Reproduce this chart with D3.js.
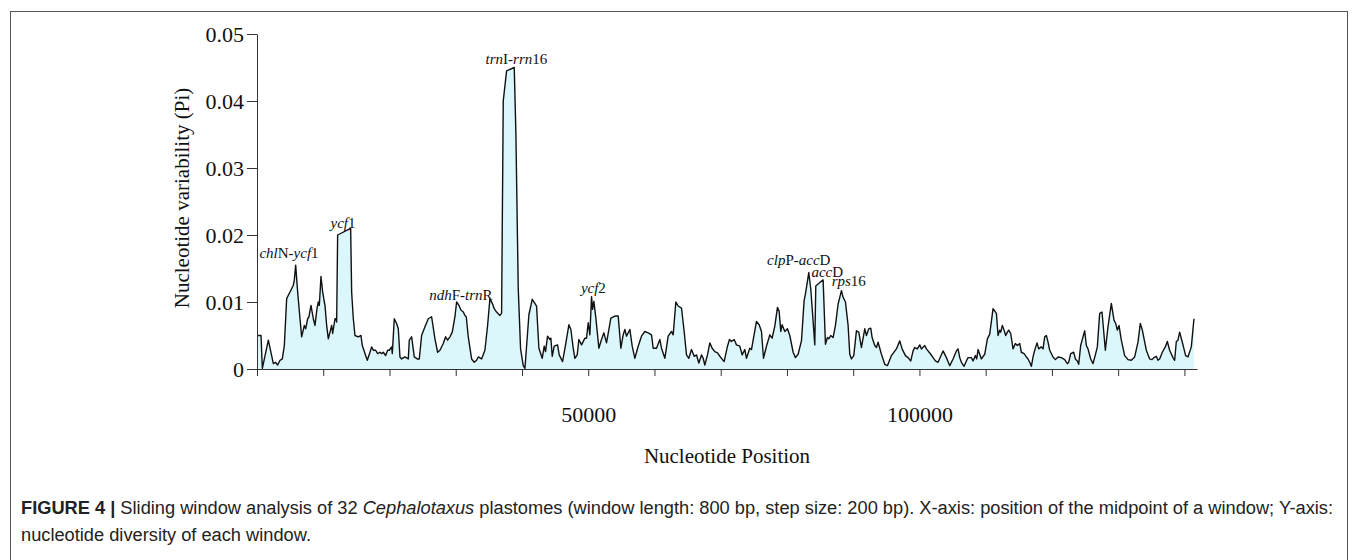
<!DOCTYPE html>
<html>
<head>
<meta charset="utf-8">
<script src="https://cdn.jsdelivr.net/npm/d3@7"></script>
<style>
  body { margin: 0; background: #fff; }
  svg { display: block; }
</style>
</head>
<body>
<div id="chart"></div>
<script>
// window midpoints (bp) and nucleotide diversity
const positions = [
  0, 605, 807, 1712, 2467, 2819, 3120, 3473, 3825, 4126, 4479, 4982, 5485, 5635, 5837, 6138, 6491, 6742, 7144, 7346,
  7647, 7849, 8150, 8503, 8754, 9056, 9257, 9408, 9659, 9911, 10162, 10263, 10515, 10766, 11018, 11269, 11420, 11772, 11923, 12024,
  12174, 14136, 14287, 14539, 14790, 15293, 15695, 15897, 16299, 16651, 17054, 17305, 17557, 17909, 18210, 18563, 18814, 19066, 19418, 19719,
  19971, 20323, 20424, 20725, 21078, 21329, 21581, 21832, 22335, 22838, 22989, 23341, 23743, 24196, 24498, 24850, 25353, 25856, 26359, 26862,
  27264, 27617, 28120, 28472, 28773, 29126, 29478, 29880, 30132, 30484, 30785, 31138, 31389, 31590, 31892, 32395, 32797, 33150, 33401, 33904,
  34407, 34809, 35162, 35514, 35815, 36168, 36671, 36922, 37174, 37677, 38833, 39085, 39437, 39789, 40192, 40450,
  41045, 41548, 42202, 42554, 43057, 43358, 43560, 43861, 44214, 44364, 44566, 44867, 45370, 45622, 45974, 46125, 46578, 47081, 47382, 47735,
  47986, 48338, 48590, 48992, 49495, 49747, 49998, 50250, 50501, 50652, 50853, 51155, 51608, 51909, 52362, 52765, 53418, 54022, 54525, 54927,
  55279, 55531, 55783, 56286, 56638, 57040, 57543, 58046, 58549, 59052, 59555, 59807, 60310, 60813, 61064, 61567, 62070, 62573, 62825, 63227,
  63579, 64082, 64484, 64837, 65189, 65591, 65993, 66346, 66698, 67100, 67352, 67603, 68005, 68358, 68709, 69112, 69514, 69867, 70520, 71024,
  71325, 71627, 72029, 72382, 72885, 73236, 73639, 73891, 74394, 74645, 75400, 75802, 76154, 76456, 76909, 77412, 77763, 78166, 78569, 78820,
  79072, 79273, 79675,
  80077, 80430, 80933, 81285, 81687, 82190, 82592, 82794, 83297, 83598, 83850, 84202, 84353, 84957, 85460, 85812, 86113, 86315, 86616, 86969,
  87321, 87723, 87975, 88226, 88478, 88830, 89232, 89484, 89735, 90087, 90490, 90842, 91244, 91747, 91999, 92351, 92652, 92854, 93256, 93508,
  93759, 94262, 94765, 95167, 95771, 96526, 97029, 97381, 97884, 98286, 98688, 99041, 99292, 99694, 100047, 100298, 100801, 101053, 101706, 102059,
  102411, 102813, 103568, 104071, 104574, 105077, 105580, 105831, 106083, 106334, 106737, 107089, 107340, 107843, 108095, 108447, 108648, 108849, 109352, 109855,
  110257, 110610, 111113,
  111616, 111867, 112119, 112269, 112521, 112772, 113024, 113275, 113477, 113778, 114131, 114483, 114784, 115137, 115388, 115790, 116143, 116394, 116646, 116897,
  117149, 117400, 117752, 118004, 118406, 118658, 118909, 119161, 119412, 119664, 120167, 120519, 120921, 121424, 121927, 122329, 122531, 122832, 123285, 123537,
  123838, 124040, 124341, 124694, 124945, 125197, 125448, 125850, 126203, 126605, 126856, 127209, 127561, 128064, 128466, 128969, 129371, 129623, 129874, 130126,
  130478, 130981, 131484, 131987, 132490, 132993, 133345, 133647, 134251, 134754, 135106, 135407, 135760, 136011, 136263, 136665, 137118, 137419, 137772, 138275,
  138526, 138778, 139029, 139281, 139683, 140186, 140538, 141041, 141443
];
const pi = [
  .0050, .0050, .0001, .0043, .0008, .0010, .0006, .0013, .0015, .0035, .0105, .0115, .0125, .0133, .0155, .0115, .0075, .0048, .0065, .0060,
  .0075, .0078, .0095, .0075, .0065, .0090, .0100, .0095, .0138, .0115, .0100, .0095, .0065, .0045, .0055, .0065, .0053, .0075, .0075, .0070,
  .0200, .0210, .0115, .0075, .0050, .0048, .0050, .0035, .0023, .0013, .0025, .0033, .0028, .0028, .0023, .0025, .0023, .0025, .0020, .0028,
  .0028, .0033, .0023, .0075, .0068, .0060, .0018, .0015, .0018, .0015, .0043, .0048, .0018, .0015, .0015, .0050, .0063, .0075, .0078, .0045,
  .0025, .0028, .0038, .0048, .0043, .0048, .0055, .0078, .0100, .0095, .0088, .0085, .0080, .0078, .0048, .0015, .0010, .0013, .0018, .0015,
  .0028, .0065, .0105, .0098, .0090, .0085, .0080, .0083, .0400, .0445, .0450, .0350, .0120, .0030, .0005, .0001,
  .0081, .0104, .0094, .0031, .0016, .0034, .0026, .0049, .0044, .0046, .0019, .0034, .0036, .0021, .0014, .0011, .0036, .0066, .0059, .0031,
  .0016, .0021, .0044, .0036, .0046, .0046, .0069, .0051, .0108, .0089, .0101, .0076, .0031, .0041, .0054, .0039, .0076, .0079, .0079, .0031,
  .0051, .0059, .0049, .0059, .0034, .0016, .0034, .0049, .0056, .0054, .0051, .0031, .0031, .0044, .0031, .0016, .0049, .0056, .0051, .0100,
  .0094, .0091, .0056, .0021, .0016, .0029, .0019, .0021, .0009, .0021, .0016, .0006, .0021, .0039, .0031, .0026, .0024, .0019, .0011, .0034,
  .0044, .0041, .0044, .0036, .0034, .0021, .0029, .0016, .0031, .0029, .0071, .0066, .0056, .0016, .0034, .0051, .0046, .0064, .0092, .0086,
  .0056, .0066, .0056,
  .0060, .0050, .0025, .0017, .0022, .0042, .0102, .0112, .0144, .0119, .0085, .0036, .0124, .0129, .0133, .0037, .0047, .0045, .0050, .0047,
  .0065, .0097, .0107, .0117, .0107, .0100, .0065, .0022, .0015, .0020, .0057, .0055, .0032, .0060, .0050, .0060, .0061, .0047, .0035, .0032,
  .0040, .0022, .0007, .0005, .0020, .0030, .0042, .0030, .0020, .0017, .0012, .0027, .0032, .0030, .0036, .0030, .0035, .0030, .0022, .0017,
  .0012, .0010, .0027, .0017, .0005, .0015, .0027, .0030, .0017, .0010, .0004, .0012, .0017, .0017, .0012, .0020, .0015, .0029, .0015, .0022,
  .0045, .0052, .0090,
  .0083, .0050, .0058, .0055, .0065, .0058, .0050, .0055, .0058, .0053, .0030, .0038, .0035, .0038, .0025, .0023, .0018, .0015, .0010, .0004,
  .0018, .0028, .0039, .0030, .0033, .0030, .0048, .0050, .0040, .0028, .0018, .0014, .0018, .0017, .0014, .0008, .0010, .0023, .0025, .0015,
  .0012, .0007, .0035, .0048, .0057, .0035, .0030, .0015, .0008, .0023, .0033, .0083, .0085, .0028, .0063, .0098, .0073, .0068, .0058, .0065,
  .0043, .0020, .0014, .0013, .0018, .0040, .0068, .0058, .0028, .0015, .0014, .0017, .0019, .0013, .0015, .0025, .0033, .0041, .0028, .0017,
  .0013, .0041, .0043, .0055, .0040, .0020, .0018, .0033, .0075
];

// region labels (*...* = italic), anchored by centre position and baseline value
const labelText = ["*chl*N-*ycf*1", "*ycf*1", "*ndh*F-*trn*R", "*trn*I-*rrn*16", "*ycf*2", "*clp*P-*acc*D", "*acc*D", "*rps*16"];
const labelPos = [4829, 12977, 30784, 39159, 50778, 81788, 86088, 89333];
const labelPi = [0.0166, 0.0210, 0.0103, 0.0455, 0.0113, 0.0155, 0.0137, 0.0124];

const xTicks = d3.range(0, 140001, 10000);
const xTickLabels = [50000, 100000];
const yTicks = [0, 0.01, 0.02, 0.03, 0.04, 0.05];

const captionLine1 = ["**FIGURE 4 |**", " Sliding window analysis of 32 ", "*Cephalotaxus*",
  " plastomes (window length: 800 bp, step size: 200 bp). X-axis: position of the midpoint of a window; Y-axis:"];
const captionLine2 = "nucleotide diversity of each window.";

const width = 1357;
const height = 560;
const serif = "'Liberation Serif', 'Times New Roman', serif";
const sans = "'Liberation Sans', Arial, sans-serif";

const data = positions.map((p, i) => ({pos: p, pi: pi[i]}));

const svg = d3.select("#chart")
  .append("svg")
  .attr("width", width)
  .attr("height", height);

// outer figure frame
svg.append("rect")
  .attr("x", 10.5)
  .attr("y", 11.5)
  .attr("width", 1337)
  .attr("height", 620)
  .attr("fill", "none")
  .attr("stroke", "#555")
  .attr("stroke-width", 1);

const xScale = d3.scaleLinear()
  .domain([0, 141900])
  .range([257, 1197]);

const yScale = d3.scaleLinear()
  .domain([0, 0.05])
  .range([369, 34]);

const area = d3.area()
  .x(d => xScale(d.pos))
  .y0(yScale(0))
  .y1(d => yScale(d.pi));

const line = d3.line()
  .x(d => xScale(d.pos))
  .y(d => yScale(d.pi));

svg.append("path")
  .datum(data)
  .attr("d", area)
  .attr("fill", "#dcf7fc");

svg.append("path")
  .datum(data)
  .attr("d", line)
  .attr("fill", "none")
  .attr("stroke", "#111")
  .attr("stroke-width", 1.4)
  .attr("stroke-linejoin", "round");

const xAxis = d3.axisBottom(xScale)
  .tickValues(xTicks)
  .tickSize(7)
  .tickSizeOuter(0)
  .tickPadding(30)
  .tickFormat(d => xTickLabels.includes(d) ? d : "");

const yAxis = d3.axisLeft(yScale)
  .tickValues(yTicks)
  .tickSize(10)
  .tickSizeOuter(0)
  .tickPadding(3)
  .tickFormat(d => d === 0 ? "0" : d3.format(".2f")(d));

const gx = svg.append("g")
  .attr("transform", `translate(0, ${yScale(0)})`)
  .call(xAxis);

const gy = svg.append("g")
  .attr("transform", `translate(${xScale(0)}, 0)`)
  .call(yAxis);

[gx, gy].forEach(g => {
  g.selectAll("path, line").attr("stroke", "#333").attr("stroke-width", 1);
  g.selectAll("text")
    .attr("fill", "#111")
    .style("font-family", serif)
    .style("font-size", "22px");
});

// axis titles
svg.append("text")
  .attr("x", 727)
  .attr("y", 463)
  .attr("text-anchor", "middle")
  .style("font-family", serif)
  .style("font-size", "21px")
  .attr("fill", "#111")
  .text("Nucleotide Position");

svg.append("text")
  .attr("transform", "translate(189, 198) rotate(-90)")
  .attr("text-anchor", "middle")
  .style("font-family", serif)
  .style("font-size", "21px")
  .attr("fill", "#111")
  .text("Nucleotide variability (Pi)");

// helper: split "*it*rom" markup into tspans
function addParts(textSel, str) {
  str.split(/(\*[^*]+\*)/).filter(s => s.length).forEach(s => {
    const it = s.startsWith("*");
    textSel.append("tspan")
      .style("font-style", it ? "italic" : "normal")
      .text(it ? s.slice(1, -1) : s);
  });
}

labelText.forEach((t, i) => {
  const txt = svg.append("text")
    .attr("x", xScale(labelPos[i]))
    .attr("y", yScale(labelPi[i]))
    .attr("text-anchor", "middle")
    .style("font-family", serif)
    .style("font-size", "15px")
    .attr("fill", "#111");
  addParts(txt, t);
});

// caption (narrow sans face in the figure, so squeeze to the measured width)
const cap1 = svg.append("text")
  .attr("x", 21)
  .attr("y", 514)
  .style("font-family", sans)
  .style("font-size", "18px")
  .attr("fill", "#222");

captionLine1.forEach(s => {
  const bold = s.startsWith("**");
  const it = !bold && s.startsWith("*");
  const clean = bold ? s.slice(2, -2) : it ? s.slice(1, -1) : s;
  cap1.append("tspan")
    .style("font-weight", bold ? "bold" : "normal")
    .style("font-style", it ? "italic" : "normal")
    .text(clean);
});

const cap2 = svg.append("text")
  .attr("x", 21)
  .attr("y", 541)
  .style("font-family", sans)
  .style("font-size", "18px")
  .attr("fill", "#222")
  .text(captionLine2);

const w1 = cap1.node().getComputedTextLength();
const k = 1312 / w1;
cap1.attr("textLength", 1312).attr("lengthAdjust", "spacingAndGlyphs");
cap2.attr("textLength", cap2.node().getComputedTextLength() * k).attr("lengthAdjust", "spacingAndGlyphs");
</script>
</body>
</html>
